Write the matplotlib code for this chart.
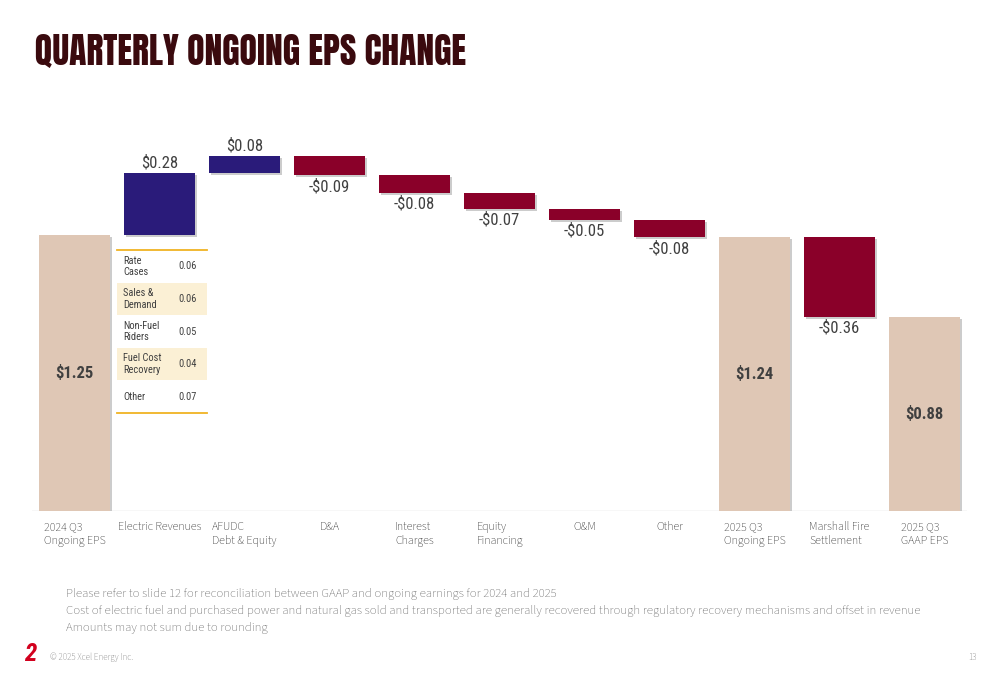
import matplotlib.pyplot as plt
import matplotlib.patheffects as pe

categories = ["2024 Q3\nOngoing EPS", "Electric Revenues", "AFUDC\nDebt & Equity", "D&A",
              "Interest\nCharges", "Equity\nFinancing", "O&M", "Other",
              "2025 Q3\nOngoing EPS", "Marshall Fire\nSettlement", "2025 Q3\nGAAP EPS"]
values = [1.25, 0.28, 0.08, -0.09, -0.08, -0.07, -0.05, -0.08, 1.24, -0.36, 0.88]
is_total = [True, False, False, False, False, False, False, False, True, False, True]

breakdown_labels = ["Rate\nCases", "Sales &\nDemand", "Non-Fuel\nRiders", "Fuel Cost\nRecovery", "Other"]
breakdown_values = [0.06, 0.06, 0.05, 0.04, 0.07]

footnotes = [
    "Please refer to slide 12 for reconciliation between GAAP and ongoing earnings for 2024 and 2025",
    "Cost of electric fuel and purchased power and natural gas sold and transported are generally recovered through regulatory recovery mechanisms and offset in revenue",
    "Amounts may not sum due to rounding",
]

TAN = "#DFC7B5"
NAVY = "#2A1B7A"
RED = "#8A0029"
TXT = "#404040"
NARROW = ["Roboto Condensed", "Archivo Narrow", "DejaVu Sans"]
SOURCE = ["Source Sans 3", "Source Sans Pro", "Fira Sans Condensed", "DejaVu Sans"]
TITLE = ["Anton", "Oswald", "DejaVu Sans"]

fig = plt.figure(figsize=(10, 6.85), dpi=100)
ax = fig.add_axes([0.032, 0.254, 0.935, 0.556])

shadow = [pe.SimplePatchShadow(offset=(1.5, -1.5), shadow_rgbFace="#aaaaaa", alpha=0.6), pe.Normal()]

running = 0
for i, v in enumerate(values):
    if is_total[i]:
        bottom, height, color = 0, v, TAN
        running = v
    else:
        bottom = running if v > 0 else running + v
        height = abs(v)
        color = NAVY if v > 0 else RED
        running += v
    b = ax.bar(i, height, bottom=bottom, width=0.83, color=color)
    b[0].set_path_effects(shadow)

    if is_total[i]:
        ax.text(i, v / 2, f"${v:.2f}", ha="center", va="center", fontsize=12,
                fontweight="bold", color=TXT, family=NARROW)
    elif v > 0:
        ax.text(i, bottom + height + 0.01, f"${v:.2f}", ha="center", va="bottom",
                fontsize=12, color=TXT, family=NARROW)
    else:
        ax.text(i, bottom - 0.015, f"-${abs(v):.2f}", ha="center", va="top",
                fontsize=12, color=TXT, family=NARROW)

ax.set_xlim(-0.5, len(values) - 0.5)
ax.set_ylim(0, 1.725)
ax.axis("off")
ax.axhline(0, color="#D9D9D9", lw=1, zorder=0)

for i, c in enumerate(categories):
    ax.text(i, -0.045, c, ha="center", va="top", multialignment="left",
            fontsize=8.6, color="#2a2a2a", family=SOURCE, linespacing=1.25)

# breakdown table under the electric revenues bar
tx0, tx1 = 0.5, 1.56
ty_top, ty_bot = 1.182, 0.444
row_h = (ty_top - ty_bot) / len(breakdown_labels)
for r, (lab, val) in enumerate(zip(breakdown_labels, breakdown_values)):
    y1 = ty_top - r * row_h
    if r % 2 == 1:
        ax.fill_between([tx0, tx1], y1 - row_h, y1, color="#FBF0D5", lw=0, zorder=1)
    ax.text(tx0 + 0.07, y1 - row_h / 2, lab, ha="left", va="center", fontsize=7.5,
            color=TXT, family=NARROW, linespacing=1.15, zorder=3)
    ax.text(tx0 + 0.72, y1 - row_h / 2, f"{val:.2f}", ha="left", va="center",
            fontsize=7.5, color=TXT, family=NARROW, zorder=3)
ax.plot([tx0, tx1], [ty_top, ty_top], color="#F0B323", lw=1.3, zorder=3)
ax.plot([tx0, tx1], [ty_bot, ty_bot], color="#F0B323", lw=1.3, zorder=3)

fig.text(0.035, 1 - 34 / 685, "QUARTERLY ONGOING EPS CHANGE", ha="left", va="top",
         fontsize=25.6, color="#3A0A0E", family=TITLE)

for k, line in enumerate(footnotes):
    fig.text(0.066, 1 - (594 + k * 17) / 685, line, ha="left", va="center",
             fontsize=9.25, color="#666666", family=SOURCE)

fig.text(0.03, 1 - 654 / 685, "2", ha="center", va="center", fontsize=18,
         fontweight="bold", style="italic", color="#D2001E", family=NARROW)
fig.text(0.05, 1 - 657 / 685, "\u00a9 2025 Xcel Energy Inc.", ha="left", va="center",
         fontsize=6.5, color="#777777", family=SOURCE)
fig.text(0.977, 1 - 657 / 685, "13", ha="right", va="center",
         fontsize=6.5, color="#777777", family=SOURCE)

fig.savefig("out.png", dpi=100)
